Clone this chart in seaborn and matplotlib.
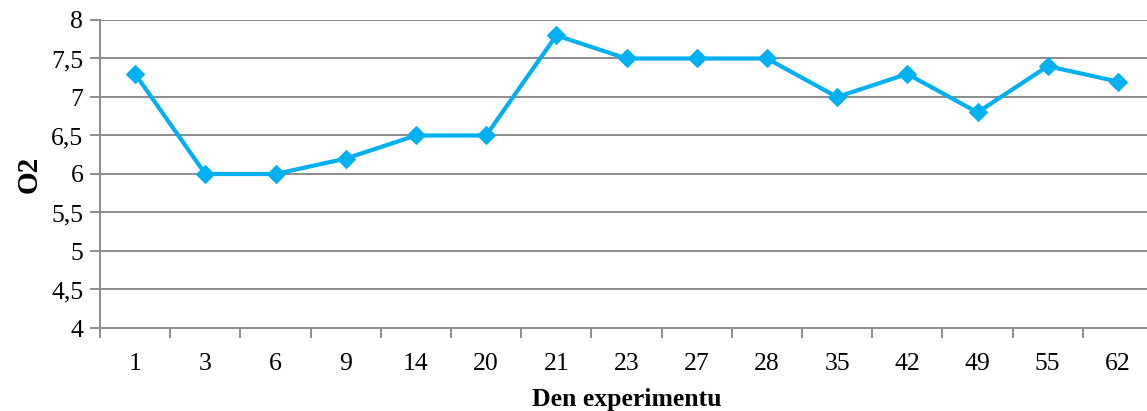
import matplotlib
matplotlib.use("Agg")
import matplotlib.pyplot as plt
import seaborn as sns
import pandas as pd
import numpy as np
from matplotlib.ticker import FixedLocator, FuncFormatter

days = ["1", "3", "6", "9", "14", "20", "21", "23", "27", "28", "35", "42", "49", "55", "62"]
o2 = [7.3, 6.0, 6.0, 6.2, 6.5, 6.5, 7.8, 7.5, 7.5, 7.5, 7.0, 7.3, 6.8, 7.4, 7.2]
y_ticks = [4, 4.5, 5, 5.5, 6, 6.5, 7, 7.5, 8]

sns.set_theme(style="white")
plt.rcParams['font.family'] = ['Liberation Serif', 'DejaVu Serif']
plt.rcParams['axes.labelcolor'] = 'black'

df = pd.DataFrame({"pos": np.arange(len(days)), "o2": o2})

fig = plt.figure(figsize=(11.47, 4.11), dpi=100)
ax = fig.add_axes([100/1147, 83/411, 1053/1147, 308/411])

grid_c = "#8c8c8c"
for t in y_ticks:
    ax.axhline(t, color=grid_c, lw=1.4, zorder=0)

sns.lineplot(data=df, x="pos", y="o2", ax=ax, color="#00B0F0", lw=3.0,
             marker="D", markersize=9, markeredgecolor="#00B0F0", zorder=3)

ax.set_xlim(-0.5, len(days) - 0.5)
ax.set_ylim(4, 8)
ax.set_yticks(y_ticks)
ax.yaxis.set_major_formatter(FuncFormatter(lambda v, p: (f"{v:g}").replace(".", ",")))
ax.set_xticks(np.arange(len(days)))
ax.set_xticklabels(days)
ax.xaxis.set_minor_locator(FixedLocator(np.arange(-0.5, len(days), 1.0)))

ax.tick_params(axis="x", which="major", length=0, pad=18, labelsize=18.5, labelcolor="black")
ax.tick_params(axis="x", which="minor", length=7, width=1.4, color=grid_c, direction="out", bottom=True)
ax.tick_params(axis="y", which="major", length=7, width=1.4, color=grid_c, direction="out", left=True, labelsize=18.5, pad=5, labelcolor="black")

for s in ["top", "right"]:
    ax.spines[s].set_visible(False)
for s in ["left", "bottom"]:
    ax.spines[s].set_color(grid_c)
    ax.spines[s].set_linewidth(1.4)

ax.set_xlabel("Den experimentu", fontsize=18.5, fontweight="bold", labelpad=9, color="black")
ax.set_ylabel("O2", fontsize=21, fontweight="bold", labelpad=6, color="black")

fig.savefig("out.png", dpi=100)
